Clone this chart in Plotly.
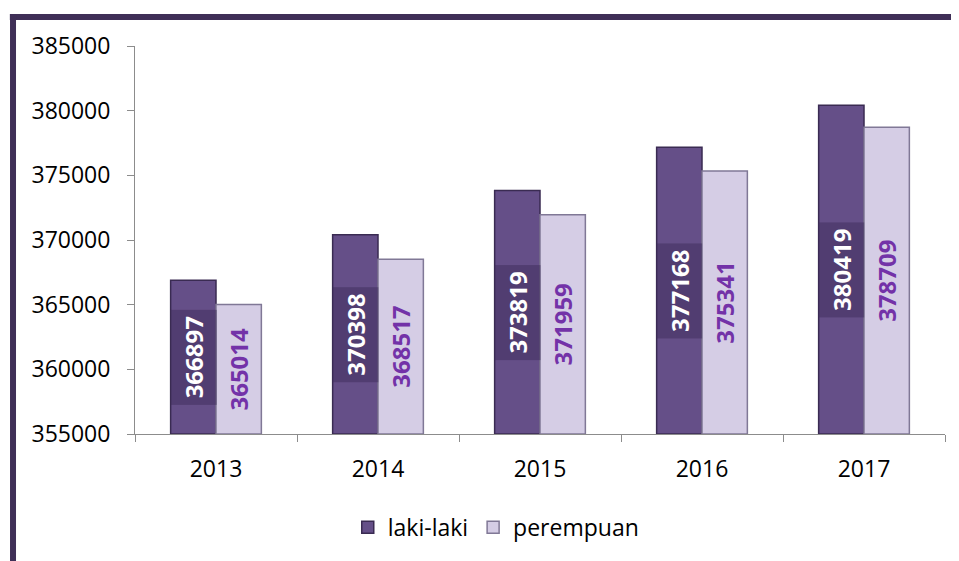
import plotly.graph_objects as go

years = ["2013", "2014", "2015", "2016", "2017"]
laki_laki = [366897, 370398, 373819, 377168, 380419]
perempuan = [365014, 368517, 371959, 375341, 378709]
y_ticks = [355000, 360000, 365000, 370000, 375000, 380000, 385000]
y_min, y_max = 355000, 385000

FONT = "Open Sans"

fig = go.Figure()
fig.add_trace(go.Bar(
    name="laki-laki", x=years, y=[v - y_min for v in laki_laki], base=y_min,
    marker=dict(color="#654f88", line=dict(color="#3a2b52", width=1.5)),
    hoverinfo="skip",
))
fig.add_trace(go.Bar(
    name="perempuan", x=years, y=[v - y_min for v in perempuan], base=y_min,
    marker=dict(color="#d5cde5", line=dict(color="#807896", width=1.5)),
    text=[str(v) for v in perempuan], textposition="inside", textangle=-90,
    insidetextanchor="middle",
    textfont=dict(family=FONT, size=24, color="#7332a8", weight="bold"),
    hoverinfo="skip",
))

# labels for laki-laki with dark box (x given as category index)
for i, v in enumerate(laki_laki):
    fig.add_annotation(
        x=i, y=(v + y_min) / 2, xref="x", yref="y", xshift=-22.7,
        text=str(v), textangle=-90, showarrow=False,
        font=dict(family=FONT, size=24, color="white", weight="bold"),
        bgcolor="rgba(62,44,90,0.5)", borderpad=6,
    )

border = "#3f2f57"
fig.add_shape(type="line", xref="paper", yref="paper", x0=-0.1545, x1=1.05,
              y0=1.0747, y1=1.0747, line=dict(color=border, width=6))
fig.add_shape(type="line", xref="paper", yref="paper", x0=-0.1506, x1=-0.1506,
              y0=1.082, y1=-0.4, line=dict(color=border, width=6))

fig.update_layout(
    width=951, height=553,
    margin=dict(l=127, r=14, t=38, b=127),
    paper_bgcolor="white", plot_bgcolor="white",
    barmode="group", bargap=0.44, bargroupgap=0,
    font=dict(family=FONT, size=23, color="black"),
    showlegend=True,
    legend=dict(orientation="h", x=0.446, xanchor="center", y=-0.185, yanchor="top",
                font=dict(family=FONT, size=23), itemwidth=30, traceorder="normal"),
    xaxis=dict(type="category", range=[-0.5, len(years) - 0.5], autorange=False,
               showline=True, linecolor="#8c8c8c", linewidth=1,
               ticks="outside", tickson="boundaries", ticklen=7, tickcolor="#8c8c8c",
               showgrid=False, tickangle=0, ticklabelstandoff=14,
               tickfont=dict(family=FONT, size=23)),
    yaxis=dict(range=[y_min, y_max], tickvals=y_ticks, ticktext=[str(t) for t in y_ticks],
               showline=True, linecolor="#8c8c8c", linewidth=1, ticks="outside",
               ticklen=7, tickcolor="#8c8c8c", showgrid=False, zeroline=False,
               ticklabelstandoff=12, tickfont=dict(family=FONT, size=23)),
)

fig.write_html("out.html")
